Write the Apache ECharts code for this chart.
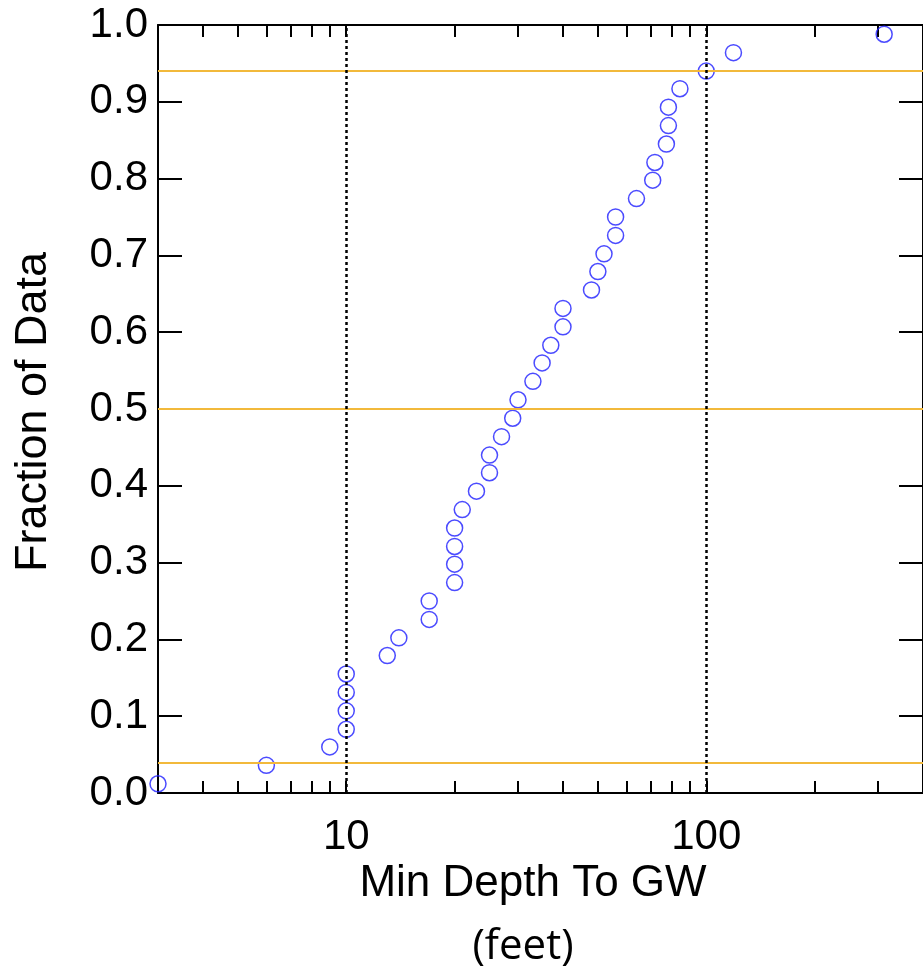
<!DOCTYPE html>
<html><head><meta charset="utf-8">
<script src="https://cdn.jsdelivr.net/npm/echarts@6/dist/echarts.min.js"></script>
<style>html,body{margin:0;padding:0;background:#fff}#c{width:923px;height:968px}</style>
</head><body><div id="c"></div><script>
// Minimum depth to groundwater (feet), sorted
const depthFeet = [3, 6, 9, 10, 10, 10, 10, 13, 14, 17, 17, 20, 20, 20, 20, 21, 23, 25, 25, 27, 29, 30,
  33, 35, 37, 40, 40, 48, 50, 52, 56, 56, 64, 71, 72, 77.5, 78.5, 78.5, 84.5, 100, 119, 312];
// Fraction of data (plotting position)
const fraction = [0.012, 0.036, 0.060, 0.083, 0.107, 0.131, 0.155, 0.179, 0.202, 0.226, 0.250, 0.274,
  0.298, 0.321, 0.345, 0.369, 0.393, 0.417, 0.440, 0.464, 0.488, 0.512, 0.536, 0.560, 0.583, 0.607,
  0.631, 0.655, 0.679, 0.702, 0.726, 0.750, 0.774, 0.798, 0.821, 0.845, 0.869, 0.893, 0.917, 0.940,
  0.964, 0.988];
const refFractions = [0.042, 0.5, 0.938];
const refDepths = [10, 100];
const xTickValues = [4, 5, 6, 7, 8, 9, 10, 20, 30, 40, 50, 60, 70, 80, 90, 100, 200, 300, 400];
const xLabelValues = [10, 100];
const xTitle = 'Min Depth To GW';
const xUnit = '(feet)';
const yTitle = 'Fraction of Data';

const FONT = 'Liberation Sans';
const FS = 42;
const chart = echarts.init(document.getElementById('c'), null, {renderer: 'canvas'});
const points = depthFeet.map((d, i) => [d, fraction[i]]);

function xAxisCfg(pos, showLabel) {
  return {
    type: 'log', logBase: 10, min: 3, max: 400, position: pos,
    axisLine: {show: true, onZero: false, lineStyle: {color: '#000', width: 2}},
    axisTick: {show: true, inside: true, length: 12, customValues: xTickValues, lineStyle: {color: '#000', width: 2}},
    axisLabel: {show: showLabel, customValues: xLabelValues, color: '#000', fontSize: FS, fontFamily: FONT, margin: 23},
    splitLine: {show: false}, minorTick: {show: false}
  };
}
function yAxisCfg(pos, showLabel) {
  return {
    type: 'value', min: 0, max: 1, interval: 0.1, position: pos,
    axisLine: {show: true, lineStyle: {color: '#000', width: 2}},
    axisTick: {show: true, inside: true, length: 24, lineStyle: {color: '#000', width: 2}},
    axisLabel: {show: showLabel, color: '#000', fontSize: FS, fontFamily: FONT, margin: 10,
      formatter: v => v.toFixed(1)},
    splitLine: {show: false}
  };
}

const markData = [];
refFractions.forEach(f => markData.push({yAxis: f, lineStyle: {color: '#f2b93b', width: 2, type: 'solid'}}));
refDepths.forEach(d => markData.push({xAxis: d, lineStyle: {color: '#000', width: 2.5, type: [3, 3]}}));

chart.setOption({
  animation: false,
  backgroundColor: '#fff',
  grid: {left: 158, top: 25, width: 768, height: 768, containLabel: false},
  xAxis: [xAxisCfg('bottom', true), xAxisCfg('top', false)],
  yAxis: [yAxisCfg('left', true), yAxisCfg('right', false)],
  series: [{
    type: 'scatter', data: points, symbol: 'circle', symbolSize: 16,
    itemStyle: {color: 'rgba(0,0,0,0)', borderColor: '#1e1eff', borderWidth: 1.5},
    clip: false, z: 3,
    markLine: {silent: true, symbol: 'none', label: {show: false}, data: markData, z: 4}
  }],
  graphic: [
    {type: 'text', x: 533, y: 884, style: {text: xTitle, fontSize: 44, fontFamily: FONT, fill: '#000', align: 'center', verticalAlign: 'middle'}},
    {type: 'text', x: 523, y: 947, style: {text: xUnit, fontSize: 42, fontFamily: 'Open Sans', fill: '#000', align: 'center', verticalAlign: 'middle'}},
    {type: 'text', x: 34, y: 412, rotation: Math.PI / 2, style: {text: yTitle, fontSize: 45, fontFamily: FONT, fill: '#000', align: 'center', verticalAlign: 'middle'}}
  ]
});
</script></body></html>
